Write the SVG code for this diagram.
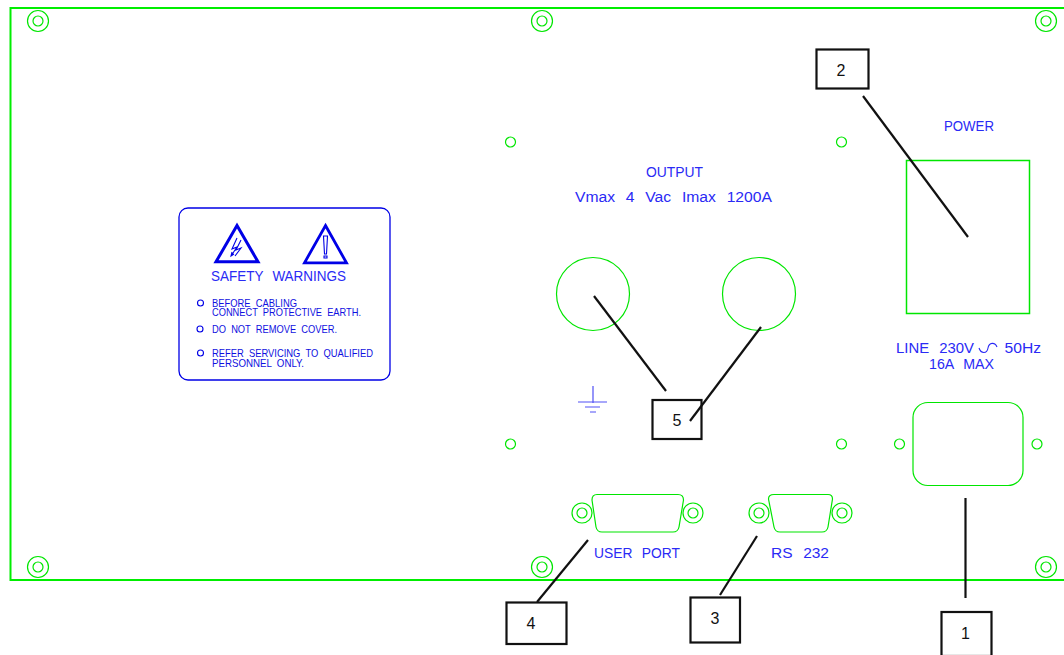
<svg xmlns="http://www.w3.org/2000/svg" width="1064" height="655" viewBox="0 0 1064 655">
<style>
.g{fill:none;stroke:#00e600;stroke-width:1.200}
.f{fill:none;stroke:#00ee00;stroke-width:2}
.b{fill:none;stroke:#0000e6;stroke-width:1.100}
.k{fill:none;stroke:#111;stroke-width:2.200}
.t{font-family:"Liberation Sans",Arial,sans-serif;fill:#2a2af5;font-size:15.500px;white-space:pre;word-spacing:1px}
.s{font-family:"Liberation Sans",Arial,sans-serif;fill:#1010e0;font-size:10.500px;white-space:pre}
.n{font-family:"Liberation Sans",Arial,sans-serif;fill:#111;font-size:16px;text-anchor:middle}
</style>
<rect width="1064" height="655" fill="#fff"/>
<g id="panel">
<path class="f" d="M1064 8H10.500V580H1064"/>
<g class="g">
<circle cx="38" cy="21" r="10.500"/><circle cx="38" cy="21" r="5"/>
<circle cx="542" cy="21" r="10.500"/><circle cx="542" cy="21" r="5"/>
<circle cx="1046" cy="21" r="10.500"/><circle cx="1046" cy="21" r="5"/>
<circle cx="38" cy="567" r="10.500"/><circle cx="38" cy="567" r="5"/>
<circle cx="542" cy="567" r="10.500"/><circle cx="542" cy="567" r="5"/>
<circle cx="1046" cy="567" r="10.500"/><circle cx="1046" cy="567" r="5"/>
<circle cx="510.500" cy="142" r="5"/><circle cx="841.500" cy="142" r="5"/>
<circle cx="510.500" cy="444" r="5"/><circle cx="841.500" cy="444" r="5"/>
</g>
</g>
<g id="safety-label">
<rect x="179" y="208" width="211" height="172" rx="9" fill="none" stroke="#0000e6" stroke-width="1.300"/>
<path d="M237 225.500L258 261.800H216Z" fill="none" stroke="#0000e6" stroke-width="3"/>
<path d="M325.500 225.500L346.500 262.800H304.500Z" fill="none" stroke="#0000e6" stroke-width="2.800"/>
<path class="b" stroke-width="1" d="M237 238L232 249L237 247L231 256M234 254L231 256L232 252M241 240L236 250L241 248L235 256"/>
<path class="b" d="M323.500 236H327.500L326.500 254H324.500ZM324 256H327V258H324Z"/>
<text class="t" x="211" y="281" textLength="135" lengthAdjust="spacingAndGlyphs">SAFETY  WARNINGS</text>
<g class="b"><circle cx="200.500" cy="303" r="3"/><circle cx="200" cy="329" r="3"/><circle cx="200.500" cy="353" r="3"/></g>
<text class="s"><tspan x="212" y="307" textLength="85" lengthAdjust="spacingAndGlyphs">BEFORE  CABLING</tspan><tspan x="212" y="316" textLength="149" lengthAdjust="spacingAndGlyphs">CONNECT  PROTECTIVE  EARTH.</tspan></text>
<text class="s" x="212" y="333" textLength="125" lengthAdjust="spacingAndGlyphs">DO  NOT  REMOVE  COVER.</text>
<text class="s"><tspan x="212" y="357" textLength="161" lengthAdjust="spacingAndGlyphs">REFER  SERVICING  TO  QUALIFIED</tspan><tspan x="212" y="367" textLength="92" lengthAdjust="spacingAndGlyphs">PERSONNEL  ONLY.</tspan></text>
</g>
<g id="output">
<text class="t" x="646" y="177" textLength="57" lengthAdjust="spacingAndGlyphs">OUTPUT</text>
<text class="t" x="575" y="202" textLength="197" lengthAdjust="spacingAndGlyphs">Vmax  4  Vac  Imax  1200A</text>
<circle class="g" cx="593" cy="294" r="36.500"/>
<circle class="g" cx="759" cy="294" r="36.500"/>
<path d="M593 386V403M578 402H607M585 407H600M590 412H596" fill="none" stroke="#5050f5" stroke-width="1.200"/>
</g>
<g id="power">
<text class="t" x="944" y="131" textLength="50" lengthAdjust="spacingAndGlyphs">POWER</text>
<rect x="906.500" y="160.500" width="123" height="153" fill="none" stroke="#00e600" stroke-width="1.500"/>
</g>
<g id="line-inlet">
<text class="t" x="896" y="353" textLength="78" lengthAdjust="spacingAndGlyphs">LINE  230V</text>
<path d="M979 348C981 354 987 354 988 348C989 342 995 342 997 347" fill="none" stroke="#2a2af5" stroke-width="1.100"/>
<text class="t" x="1004.500" y="353" textLength="36.500" lengthAdjust="spacingAndGlyphs">50Hz</text>
<text class="t" x="929" y="368.500" textLength="65" lengthAdjust="spacingAndGlyphs">16A  MAX</text>
<rect x="913" y="402.500" width="110" height="83" rx="15" class="g"/>
<circle class="g" cx="899.500" cy="444" r="5"/><circle class="g" cx="1037" cy="444" r="5"/>
</g>
<g id="user-port">
<path class="g" d="M597 494.500H678Q683.500 494.500 683.500 500L679 527Q678 532 673 532H602Q597 532 596 527L592 500Q592 494.500 597 494.500Z"/>
<circle class="g" cx="582" cy="513" r="10"/><circle class="g" cx="582" cy="513" r="5"/>
<circle class="g" cx="693" cy="513" r="10"/><circle class="g" cx="693" cy="513" r="5"/>
<text class="t" x="594" y="558" textLength="86" lengthAdjust="spacingAndGlyphs">USER  PORT</text>
</g>
<g id="rs-232">
<path class="g" d="M774 494.500H828Q832.500 494.500 832.500 499L828 527Q827 532 822 532H780Q775 532 774 527L768.500 499Q768.500 494.500 774 494.500Z"/>
<circle class="g" cx="759" cy="513" r="10"/><circle class="g" cx="759" cy="513" r="5"/>
<circle class="g" cx="842" cy="513" r="10"/><circle class="g" cx="842" cy="513" r="5"/>
<text class="t" x="771" y="558" textLength="58" lengthAdjust="spacingAndGlyphs">RS  232</text>
</g>
<g id="connectors" class="k">
<path d="M863 96L968 237"/>
<path d="M594 296L666 391"/>
<path d="M761 327L690 421"/>
<path d="M965.500 498V598"/>
<path d="M757 536L720 595"/>
<path d="M588 540L537 602"/>
</g>
<g id="callout-2"><rect class="k" x="816.500" y="49.500" width="52" height="39"/><text class="n" x="841" y="76">2</text></g>
<g id="callout-5"><rect class="k" x="652.500" y="400" width="49" height="39"/><text class="n" x="677" y="426">5</text></g>
<g id="callout-4"><rect class="k" x="506.500" y="602.500" width="60" height="41.500"/><text class="n" x="531" y="629">4</text></g>
<g id="callout-3"><rect class="k" x="690.500" y="597.500" width="49.500" height="45"/><text class="n" x="715" y="624">3</text></g>
<g id="callout-1"><rect class="k" x="941.500" y="612" width="50" height="44"/><text class="n" x="965.500" y="639">1</text></g>
</svg>
